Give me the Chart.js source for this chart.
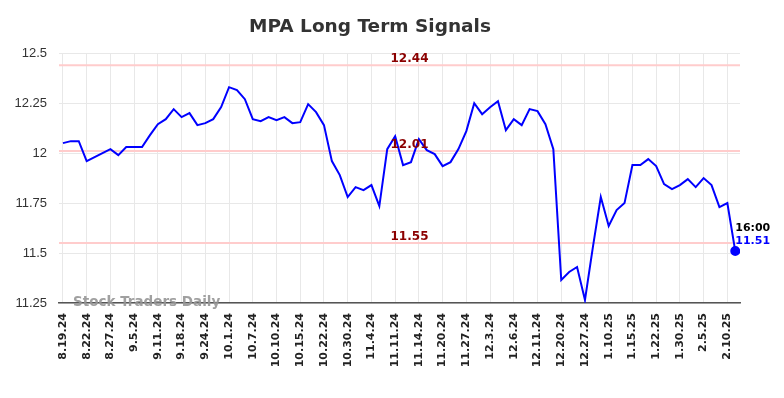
<!DOCTYPE html>
<html>
<head>
<meta charset="utf-8">
<script src="https://cdn.jsdelivr.net/npm/chart.js@4/dist/chart.umd.min.js"></script>
<style>
  html, body { margin: 0; padding: 0; background: #fff; }
  #wrap { width: 784px; height: 398px; }
</style>
</head>
<body>
<div id="wrap"><canvas id="chart-signals"></canvas></div>
<script>
const tickLabels = ['8.19.24', '8.22.24', '8.27.24', '9.5.24', '9.11.24', '9.18.24', '9.24.24', '10.1.24', '10.7.24', '10.10.24',
  '10.15.24', '10.22.24', '10.30.24', '11.4.24', '11.11.24', '11.14.24', '11.20.24', '11.27.24', '12.3.24', '12.6.24',
  '12.11.24', '12.20.24', '12.27.24', '1.10.25', '1.15.25', '1.22.25', '1.30.25', '2.5.25', '2.10.25'];

const prices = [12.05, 12.06, 12.06, 11.96, 11.98, 12.0, 12.02, 11.99, 12.03, 12.03,
  12.03, 12.09, 12.145, 12.17, 12.22, 12.18, 12.2, 12.14, 12.15, 12.17,
  12.23, 12.33, 12.315, 12.27, 12.17, 12.16, 12.18, 12.165, 12.18, 12.15,
  12.155, 12.245, 12.205, 12.14, 11.96, 11.89, 11.78, 11.83, 11.815, 11.84,
  11.735, 12.02, 12.085, 11.94, 11.955, 12.07, 12.015, 11.995, 11.935, 11.955,
  12.02, 12.11, 12.25, 12.195, 12.23, 12.26, 12.115, 12.17, 12.14, 12.22,
  12.21, 12.145, 12.02, 11.365, 11.405, 11.43, 11.265, 11.53, 11.78, 11.635,
  11.715, 11.75, 11.94, 11.94, 11.97, 11.935, 11.845, 11.82, 11.84, 11.87,
  11.83, 11.875, 11.84, 11.73, 11.75, 11.51];

const levels = [12.44, 12.01, 11.55];
const lastTime = '16:00';

const FONT = "'DejaVu Sans', sans-serif";

const signalLines = {
  id: 'signalLines',
  beforeDatasetsDraw(chart) {
    const { ctx, chartArea, scales } = chart;
    ctx.save();
    ctx.strokeStyle = '#ffcccc';
    ctx.lineWidth = 2;
    levels.forEach(v => {
      const y = scales.y.getPixelForValue(v);
      ctx.beginPath();
      ctx.moveTo(chartArea.left, y);
      ctx.lineTo(chartArea.right, y);
      ctx.stroke();
    });
    ctx.restore();
  },
  afterDatasetsDraw(chart) {
    const { ctx, chartArea, scales } = chart;
    ctx.save();
    ctx.font = 'bold 12px ' + FONT;
    ctx.fillStyle = '#8b0000';
    ctx.textAlign = 'center';
    ctx.textBaseline = 'alphabetic';
    const cx = (chartArea.left + chartArea.right) / 2 + 10;
    levels.forEach(v => {
      const y = scales.y.getPixelForValue(v);
      ctx.fillText(v.toFixed(2), cx, y - 3);
    });

    // watermark
    ctx.font = 'bold 13.5px ' + FONT;
    ctx.fillStyle = 'rgba(150,150,150,0.9)';
    ctx.textAlign = 'left';
    ctx.textBaseline = 'middle';
    ctx.fillText('Stock Traders Daily', chartArea.left + 14, chartArea.bottom - 1);

    // last value
    const last = prices.length - 1;
    const px = scales.x.getPixelForValue(last);
    const py = scales.y.getPixelForValue(prices[last]);
    ctx.font = 'bold 11px ' + FONT;
    ctx.textAlign = 'left';
    ctx.fillStyle = '#000';
    ctx.fillText(lastTime, px, py - 23);
    ctx.fillStyle = '#0000ff';
    ctx.fillText(prices[last].toFixed(2), px, py - 10);
    ctx.restore();
  }
};

new Chart(document.getElementById('chart-signals'), {
  type: 'line',
  data: {
    datasets: [{
      data: prices.map((v, i) => ({ x: i, y: v })),
      borderColor: '#0000ff',
      backgroundColor: '#0000ff',
      borderWidth: 2,
      tension: 0,
      pointRadius: ctx => ctx.dataIndex === prices.length - 1 ? 4 : 0,
      pointHoverRadius: 0
    }]
  },
  options: {
    responsive: true,
    maintainAspectRatio: false,
    animation: false,
    layout: { padding: { left: 0, right: 44, top: 0, bottom: 0 } },
    plugins: {
      legend: { display: false },
      tooltip: { enabled: false },
      title: {
        display: true,
        text: 'MPA Long Term Signals',
        color: '#333',
        font: { family: FONT, size: 18.5, weight: 'bold' },
        padding: { top: 16, bottom: 15 }
      }
    },
    scales: {
      x: {
        type: 'linear',
        min: -0.5,
        max: 85.6,
        afterBuildTicks: scale => {
          scale.ticks = tickLabels.map((_, k) => ({ value: k * 3 }));
        },
        afterFit: scale => { scale.height = 95; },
        grid: { color: '#e8e8e8', drawTicks: false },
        border: { display: true, color: '#555', width: 1.5 },
        ticks: {
          autoSkip: false,
          maxRotation: 90,
          minRotation: 90,
          padding: 10,
          color: '#222',
          font: { family: FONT, size: 11, weight: 'bold' },
          callback: (v, idx) => tickLabels[idx]
        }
      },
      y: {
        min: 11.25,
        max: 12.5,
        afterFit: scale => { scale.width = 59; },
        grid: { color: '#e8e8e8', drawTicks: false },
        border: { display: false },
        ticks: {
          stepSize: 0.25,
          padding: 12,
          color: '#333',
          font: { family: "'Liberation Sans', Arial, sans-serif", size: 13 },
          callback: v => String(parseFloat(v.toFixed(2)))
        }
      }
    }
  },
  plugins: [signalLines]
});
</script>
</body>
</html>
